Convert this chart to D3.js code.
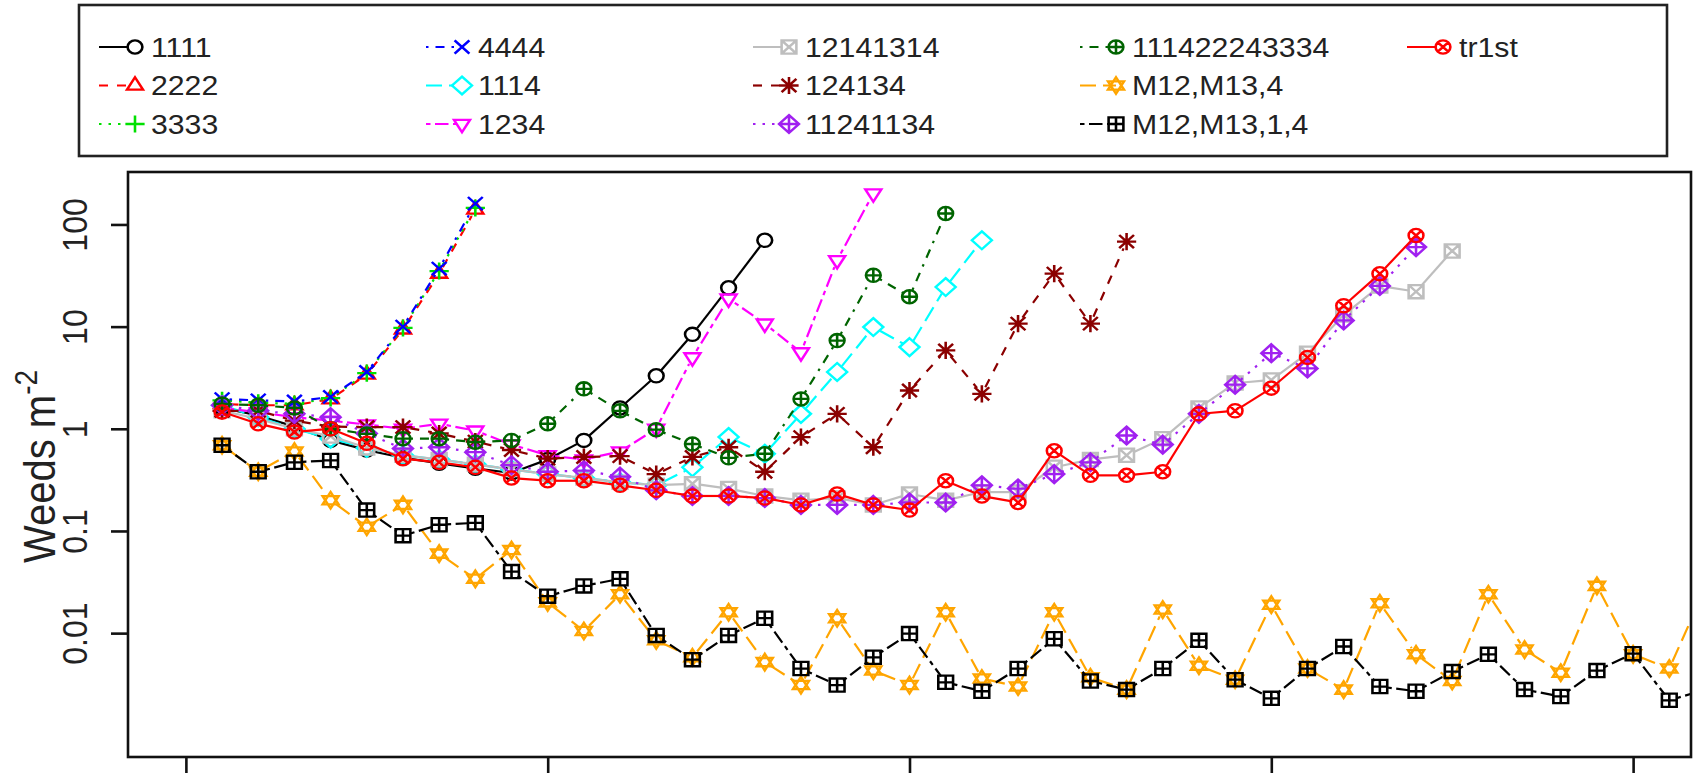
<!DOCTYPE html>
<html><head><meta charset="utf-8">
<script src="https://cdn.jsdelivr.net/npm/d3@7"></script>
<style>html,body{margin:0;padding:0;background:#fff;} svg{display:block;}</style>
</head><body>
<svg id="chart" width="1696" height="773"></svg>
<script>
// ---------------- data ----------------
const seriesNames = ["1111","2222","3333","4444","1114","1234","12141314","124134","11241134","111422243334","M12,M13,4","M12,M13,1,4","tr1st"];

const s1111 = [1.6, 1.35, 1.05, 0.77, 0.62, 0.52, 0.46, 0.41, 0.37, 0.5, 0.77, 1.6, 3.3, 8.4, 24, 70];
const s2222 = [1.75, 1.7, 1.7, 1.95, 3.4, 9.4, 33, 140];
const s3333 = [1.9, 1.8, 1.75, 2.0, 3.5, 9.7, 35, 145];
const s4444 = [1.95, 1.9, 1.85, 2.05, 3.6, 10, 37, 160];
const s1114 = [1.7, 1.3, 1.0, 0.8, 0.65, 0.55, 0.5, 0.45, 0.4, 0.36, 0.33, 0.3, 0.28, 0.42, 0.83, 0.57, 1.4, 3.6, 9.9, 6.3, 24.4, 70];
const s1234 = [1.6, 1.45, 1.3, 1.2, 1.1, 1.0, 1.12, 0.96, 0.7, 0.55, 0.5, 0.6, 1.0, 5.0, 18.8, 10.7, 5.6, 44.7, 201];
const s12141314 = [1.5, 1.25, 1.0, 0.85, 0.65, 0.55, 0.5, 0.45, 0.4, 0.36, 0.33, 0.3, 0.28, 0.29, 0.26, 0.22, 0.2, 0.21, 0.18, 0.23, 0.2, 0.24, 0.24, 0.42, 0.5, 0.55, 0.8, 1.6, 2.8, 3.0, 5.5, 13, 25, 22, 55];
const s124134 = [1.5, 1.5, 1.2, 1.05, 1.04, 1.04, 0.9, 0.75, 0.62, 0.51, 0.53, 0.54, 0.36, 0.53, 0.66, 0.38, 0.83, 1.4, 0.66, 2.37, 5.85, 2.2, 10.7, 33, 10.7, 68];
const s11241134 = [1.7, 1.5, 1.4, 1.3, 0.9, 0.64, 0.66, 0.59, 0.44, 0.38, 0.39, 0.34, 0.25, 0.22, 0.22, 0.21, 0.18, 0.18, 0.18, 0.19, 0.19, 0.28, 0.26, 0.36, 0.47, 0.86, 0.7, 1.4, 2.7, 5.5, 3.9, 11.5, 25, 60];
const s111422243334 = [1.75, 1.7, 1.6, 1.0, 0.89, 0.8, 0.8, 0.74, 0.77, 1.12, 2.46, 1.5, 0.98, 0.71, 0.52, 0.57, 1.96, 7.3, 31.8, 19.6, 128];
const sM12M13_4 = [0.69, 0.38, 0.6, 0.2, 0.11, 0.18, 0.06, 0.034, 0.065, 0.02, 0.0105, 0.024, 0.0085, 0.0058, 0.016, 0.0052, 0.0031, 0.014, 0.0043, 0.0031, 0.016, 0.0036, 0.003, 0.016, 0.0037, 0.0028, 0.017, 0.0048, 0.0035, 0.019, 0.0045, 0.0028, 0.0196, 0.0062, 0.0034, 0.024, 0.0069, 0.0041, 0.029, 0.0062, 0.0045, 0.028];
const sM12M13_1_4 = [0.69, 0.38, 0.47, 0.49, 0.16, 0.09, 0.115, 0.12, 0.04, 0.023, 0.029, 0.034, 0.0095, 0.0055, 0.0095, 0.014, 0.0045, 0.0031, 0.0058, 0.0099, 0.0033, 0.0027, 0.0045, 0.0088, 0.0034, 0.0028, 0.0045, 0.0085, 0.0035, 0.0023, 0.0045, 0.0074, 0.003, 0.0027, 0.0042, 0.0062, 0.0028, 0.0024, 0.0043, 0.0063, 0.0022, 0.0028];
const sTr1st = [1.46, 1.12, 0.93, 1.0, 0.72, 0.51, 0.47, 0.42, 0.33, 0.31, 0.31, 0.28, 0.25, 0.22, 0.22, 0.21, 0.18, 0.23, 0.18, 0.16, 0.31, 0.22, 0.19, 0.61, 0.35, 0.35, 0.38, 1.4, 1.5, 2.5, 5, 16, 33, 78];

const seriesValues = [s1111, s2222, s3333, s4444, s1114, s1234, s12141314, s124134, s11241134, s111422243334, sM12M13_4, sM12M13_1_4, sTr1st];

const yTickValues = [0.01, 0.1, 1, 10, 100];
const yTickLabels = ["0.01", "0.1", "1", "10", "100"];
const xTickValues = [0, 10, 20, 30, 40];
const yAxisTitle = "Weeds m";
const yAxisTitleSup = "-2";

// ---------------- styles ----------------
const seriesColors = ["#000000","#FF0000","#00E000","#0000FF","#00FFFF","#FF00FF","#BEBEBE","#8B0000","#A020F0","#006400","#FFA500","#000000","#FF0000"];
const lw = 2.2;
const dashPatterns = {
  solid: null,
  dashed: "9,9",
  dotted: "2.5,7",
  dotdash: "2.5,7,9,7",
  longdash: "16,7",
  twodash: "4.5,4.5,13.5,4.5"
};
const seriesLty = ["solid","dashed","dotted","dotdash","longdash","twodash","solid","dashed","dotted","dotdash","longdash","twodash","solid"];
const seriesPch = [1,2,3,4,5,6,7,8,9,10,11,12,13];

const W = 1696, H = 773;
const plot = {left: 128, right: 1691, top: 172, bottom: 757};
const SX = 1.12; // horizontal stretch of the original image
const FONT = "'Liberation Sans', Arial, Helvetica, sans-serif";

const svg = d3.select("#chart");

const x = d3.scaleLinear().domain([-1.6, 41.6]).range([plot.left, plot.right]);
const y = d3.scaleLog().domain([Math.pow(10, -3.2124), Math.pow(10, 2.5134)]).range([plot.bottom, plot.top]);

function symbolPath(pch, s) {
  const r = s;
  const circ = (rr) => `M${-rr},0A${rr},${rr} 0 1,0 ${rr},0A${rr},${rr} 0 1,0 ${-rr},0Z`;
  const plus = (rr) => `M${-rr},0H${rr}M0,${-rr}V${rr}`;
  const cross = (rr) => `M${-rr},${-rr}L${rr},${rr}M${-rr},${rr}L${rr},${-rr}`;
  const sq = (rr) => `M${-rr},${-rr}H${rr}V${rr}H${-rr}Z`;
  const t = r * 1.25;
  const triUp = `M0,${-t}L${t*0.866},${t*0.5}L${-t*0.866},${t*0.5}Z`;
  const triDn = `M0,${t}L${t*0.866},${-t*0.5}L${-t*0.866},${-t*0.5}Z`;
  const dm = r * 1.35;
  const diamond = `M0,${-dm}L${dm},0L0,${dm}L${-dm},0Z`;
  switch (pch) {
    case 1: return circ(r);
    case 2: return triUp;
    case 3: return plus(r * 1.3);
    case 4: return cross(r);
    case 5: return diamond;
    case 6: return triDn;
    case 7: return sq(r) + cross(r);
    case 8: return plus(r * 1.3) + cross(r);
    case 9: return diamond + `M${-dm},0H${dm}M0,${-dm}V${dm}`;
    case 10: return circ(r) + plus(r);
    case 11: return triUp + triDn;
    case 12: return sq(r) + plus(r);
    case 13: return circ(r) + cross(r * 0.707);
  }
  return circ(r);
}

// clip
svg.append("defs").append("clipPath").attr("id", "plotclip")
  .append("rect").attr("x", plot.left).attr("y", plot.top)
  .attr("width", plot.right - plot.left).attr("height", plot.bottom - plot.top);

const dataLayer = svg.append("g").attr("clip-path", "url(#plotclip)");
const gap = 7.5;
const symSize = 6.6;

seriesValues.forEach((vals, i) => {
  const g = dataLayer.append("g");
  const col = seriesColors[i];
  const pts = vals.map((v, j) => [x(j + 1), y(v)]);
  for (let j = 0; j < pts.length - 1; j++) {
    const [x1, y1] = pts[j], [x2, y2] = pts[j + 1];
    const dx = x2 - x1, dy = y2 - y1, d = Math.hypot(dx, dy);
    if (d <= 2 * gap) continue;
    const ux = dx / d, uy = dy / d;
    g.append("line")
      .attr("x1", x1 + ux * gap).attr("y1", y1 + uy * gap)
      .attr("x2", x2 - ux * gap).attr("y2", y2 - uy * gap)
      .attr("stroke", col).attr("stroke-width", lw)
      .attr("stroke-dasharray", dashPatterns[seriesLty[i]])
      .attr("fill", "none");
  }
  g.selectAll("path.pt").data(vals).join("path")
    .attr("class", "pt")
    .attr("d", symbolPath(seriesPch[i], symSize))
    .attr("transform", (v, j) => `translate(${x(j + 1)},${y(v)}) scale(${SX},1)`)
    .attr("fill", "none").attr("stroke", col).attr("stroke-width", 2.3);
});

// plot border
svg.append("rect").attr("x", plot.left).attr("y", plot.top)
  .attr("width", plot.right - plot.left).attr("height", plot.bottom - plot.top)
  .attr("fill", "none").attr("stroke", "#111").attr("stroke-width", 2.6);

// y axis
const yAxis = svg.append("g").attr("transform", `translate(${plot.left},0)`)
  .call(d3.axisLeft(y).tickValues(yTickValues).tickFormat((d, i) => yTickLabels[i]).tickSize(17).tickPadding(0));
yAxis.select(".domain").remove();
yAxis.selectAll(".tick line").attr("stroke", "#111").attr("stroke-width", 2.6);
yAxis.selectAll(".tick text")
  .attr("x", null).attr("dy", null)
  .attr("text-anchor", "middle")
  .attr("font-family", FONT).attr("font-size", 32).attr("fill", "#222")
  .attr("transform", `translate(-41,0) scale(${SX},1) rotate(-90)`);

// x axis (tick marks only; labels lie below the visible area)
const xAxis = svg.append("g").attr("transform", `translate(0,${plot.bottom})`)
  .call(d3.axisBottom(x).tickValues(xTickValues).tickFormat(() => "").tickSize(20));
xAxis.select(".domain").remove();
xAxis.selectAll(".tick line").attr("stroke", "#111").attr("stroke-width", 2.6);

// y axis title
const yt = svg.append("text")
  .attr("transform", `translate(55,${(plot.top + plot.bottom) / 2 + 2}) scale(${SX},1) rotate(-90)`)
  .attr("text-anchor", "middle")
  .attr("font-family", FONT).attr("font-size", 40).attr("fill", "#222");
yt.append("tspan").text(yAxisTitle);
yt.append("tspan").attr("dy", -16).attr("font-size", 28).text(yAxisTitleSup);

// legend
const leg = svg.append("g");
leg.append("rect").attr("x", 79).attr("y", 5).attr("width", 1588).attr("height", 151)
  .attr("fill", "#fff").attr("stroke", "#222").attr("stroke-width", 2.6);
const legLine = 36, legGap = 16, legColW = 327, legText0 = 151;
seriesNames.forEach((name, i) => {
  const c = Math.floor(i / 3), r = i % 3;
  const tx = legText0 + c * legColW, ly = 47 + r * 38.5;
  const sx = tx - legGap;
  const col = seriesColors[i];
  leg.append("line").attr("x1", sx - legLine).attr("y1", ly).attr("x2", sx).attr("y2", ly)
    .attr("stroke", col).attr("stroke-width", lw)
    .attr("stroke-dasharray", dashPatterns[seriesLty[i]]);
  leg.append("path").attr("d", symbolPath(seriesPch[i], symSize))
    .attr("transform", `translate(${sx},${ly}) scale(${SX},1)`)
    .attr("fill", "#fff").attr("stroke", col).attr("stroke-width", 2.3);
  leg.append("text")
    .attr("transform", `translate(${tx},${ly + 9.5}) scale(${SX},1)`)
    .attr("font-family", FONT).attr("font-size", 27).attr("fill", "#222")
    .text(name);
});
</script>
</body></html>
